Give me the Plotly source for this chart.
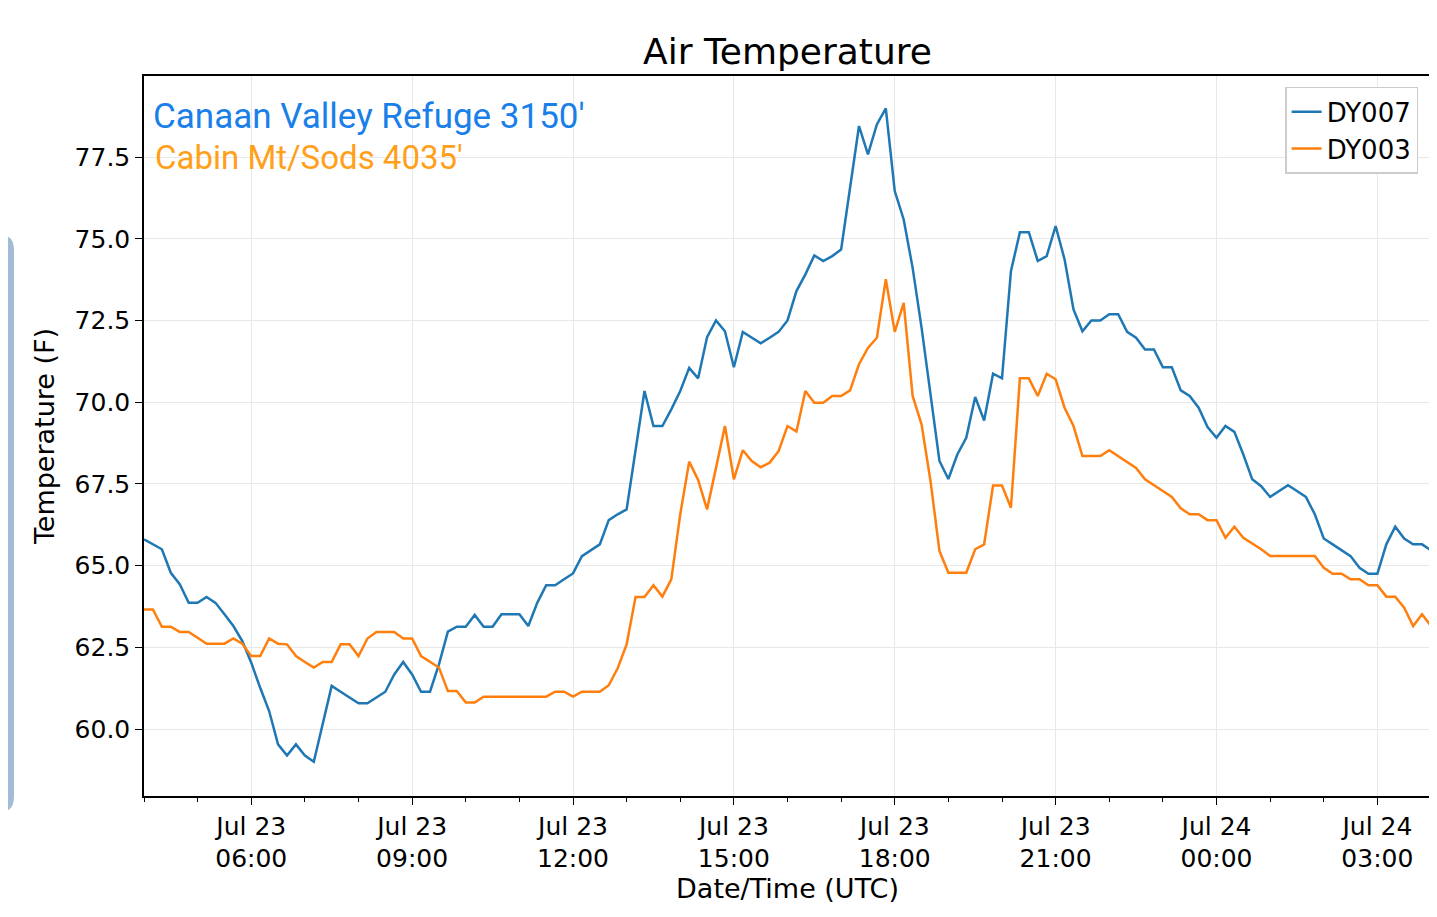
import plotly.graph_objects as go
import pandas as pd

times = pd.date_range("2019-07-23 04:00", periods=145, freq="10min")

dy007 = [65.80,65.65,65.50,64.78,64.43,63.86,63.86,64.04,63.86,63.51,63.15,62.69,62.03,61.26,60.55,59.53,59.19,59.53,59.19,59.00,
         60.14,61.32,61.14,60.96,60.79,60.79,60.96,61.14,61.67,62.05,61.67,61.14,61.14,61.98,62.98,63.13,63.13,63.49,63.13,63.13,
         63.51,63.51,63.51,63.15,63.86,64.40,64.40,64.58,64.76,65.29,65.47,65.65,66.39,66.57,66.72,68.50,70.34,69.27,69.27,69.78,
         70.34,71.05,70.73,71.99,72.50,72.17,71.07,72.15,71.97,71.80,71.97,72.15,72.50,73.40,73.91,74.49,74.32,74.47,74.67,76.56,
         78.45,77.58,78.50,78.99,76.46,75.59,74.11,72.28,70.20,68.20,67.65,68.40,68.91,70.16,69.44,70.87,70.73,74.01,75.20,75.20,
         74.32,74.47,75.39,74.37,72.84,72.17,72.50,72.50,72.69,72.69,72.15,71.97,71.61,71.61,71.07,71.07,70.36,70.19,69.83,69.24,
         68.91,69.27,69.09,68.40,67.64,67.43,67.10,67.28,67.46,67.28,67.10,66.57,65.83,65.65,65.47,65.29,64.93,64.75,64.75,65.65,
         66.19,65.83,65.65,65.65,65.47]
dy003 = [63.66,63.66,63.13,63.13,62.97,62.97,62.79,62.61,62.61,62.61,62.77,62.61,62.23,62.23,62.77,62.61,62.59,62.23,62.05,61.88,
         62.05,62.05,62.59,62.59,62.23,62.77,62.97,62.97,62.97,62.77,62.77,62.23,62.05,61.88,61.16,61.16,60.81,60.81,60.99,60.99,
         60.99,60.99,60.99,60.99,60.99,60.99,61.14,61.14,60.99,61.14,61.14,61.14,61.34,61.86,62.59,64.04,64.04,64.40,64.05,64.58,
         66.57,68.18,67.62,66.72,67.99,69.27,67.64,68.53,68.20,68.01,68.15,68.50,69.27,69.10,70.34,69.98,69.98,70.19,70.19,70.36,
         71.16,71.66,71.97,73.76,72.15,73.04,70.19,69.32,67.59,65.45,64.78,64.78,64.78,65.50,65.65,67.45,67.45,66.77,70.73,70.73,
         70.19,70.87,70.70,69.83,69.27,68.35,68.35,68.35,68.53,68.35,68.18,67.99,67.64,67.45,67.28,67.10,66.75,66.57,66.57,66.39,
         66.39,65.85,66.19,65.85,65.67,65.50,65.29,65.29,65.29,65.29,65.29,65.29,64.93,64.75,64.75,64.58,64.58,64.40,64.40,64.05,
         64.05,63.71,63.15,63.51,63.15]

tickvals = pd.date_range("2019-07-23 06:00", periods=8, freq="3h")
ticktext = [f"Jul {t.day}<br>{t:%H:%M}" for t in tickvals]
yticks = [60.0, 62.5, 65.0, 67.5, 70.0, 72.5, 75.0, 77.5]

fig = go.Figure()
fig.add_trace(go.Scatter(x=times, y=dy007, mode="lines", name="DY007", line=dict(color="#1f77b4", width=2.5)))
fig.add_trace(go.Scatter(x=times, y=dy003, mode="lines", name="DY003", line=dict(color="#ff7f0e", width=2.5)))

W, H = 1437, 917
L, R, T, B = 136, 14, 68, 129
pw = W - L - R
ph = H - T - B
def px(x):
    return (x - 7 - L) / pw
def py(y):
    return 1 - (y - 7 - T) / ph

fig.update_layout(
    width=W, height=H, margin=dict(l=L, r=R, t=T, b=B),
    paper_bgcolor="white", plot_bgcolor="white",
    font=dict(family="DejaVu Sans", size=25, color="black"),
    title=dict(text="Air Temperature", x=0.5, xref="paper", y=1 - 43/H, yanchor="middle", font=dict(size=36)),
    legend=dict(x=0.99, y=0.985, xanchor="right", yanchor="top", bordercolor="#cccccc", borderwidth=1.5,
                bgcolor="white", font=dict(size=26), tracegroupgap=4),
    xaxis=dict(range=[times[0], times[-1]], tickvals=tickvals, ticktext=ticktext, showgrid=True,
               gridcolor="#e8e8e8", showline=True, linecolor="black", linewidth=1.5, mirror=True,
               ticks="outside", ticklen=7, tickcolor="black",
               minor=dict(dtick=3600000, ticks="outside", ticklen=4, tickcolor="black", showgrid=False),
               title=dict(text="Date/Time (UTC)", font=dict(size=27), standoff=5)),
    yaxis=dict(range=[57.95, 79.98], tickvals=yticks, ticktext=[f"{v:.1f}" for v in yticks],
               showgrid=True, gridcolor="#e8e8e8", showline=True, linecolor="black", linewidth=1.5, mirror=True,
               ticks="outside", ticklen=7, tickcolor="black",
               title=dict(text="Temperature (F)", font=dict(size=27), standoff=12)),
    annotations=[
        dict(text="Canaan Valley Refuge 3150'", xref="paper", yref="paper", x=px(150), y=py(115),
             xanchor="left", yanchor="middle", showarrow=False, font=dict(family="Roboto", size=35, color="#1a7fe8")),
        dict(text="Cabin Mt/Sods 4035'", xref="paper", yref="paper", x=px(152), y=py(156),
             xanchor="left", yanchor="middle", showarrow=False, font=dict(family="Roboto", size=33, color="#ff9f1a")),
    ],
    shapes=[dict(type="path", xref="paper", yref="paper",
                 path=f"M {px(-20)} {py(235)} L {px(3)} {py(235)} Q {px(13)} {py(235)} {px(13)} {py(250)} "
                      f"L {px(13)} {py(795)} Q {px(13)} {py(810)} {px(3)} {py(810)} L {px(-20)} {py(810)} Z",
                 fillcolor="#a3bcd6", line=dict(width=0))],
)
fig.write_html("out.html")
